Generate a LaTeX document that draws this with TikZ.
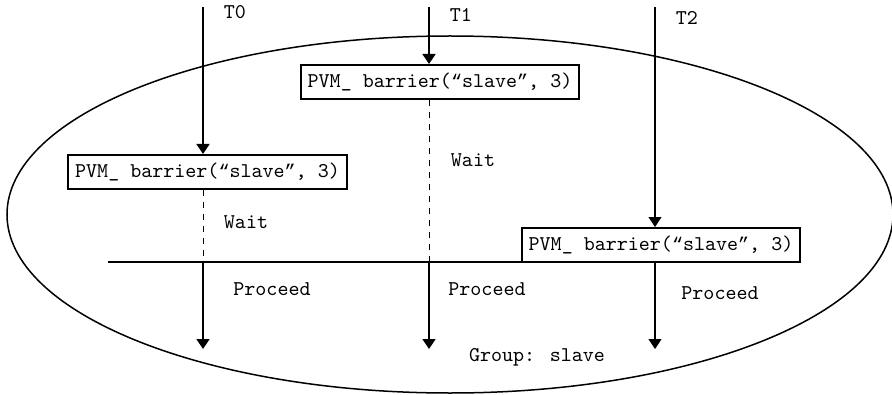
\documentclass[tikz,border=0pt]{standalone}
\usepackage{fontspec}
\newfontfamily\quotefont{Liberation Mono}
\newcommand{\qopen}{{\quotefont\fontsize{9.2}{11}\selectfont “}}
\newcommand{\qclose}{{\quotefont\fontsize{9.2}{11}\selectfont ”}}
\usepackage{tikz}
\usetikzlibrary{arrows.meta,positioning}

\begin{document}
\begin{tikzpicture}[x=0.5pt, y=-0.5pt, line width=0.75pt,
    every node/.style={font=\ttfamily\fontsize{10.5}{12}\selectfont, inner sep=0pt},
    barrier/.style={draw, line width=1pt, inner xsep=3.5pt, minimum height=17pt},
    flow/.style={-{Triangle[length=5pt,width=6.5pt]}}]
  \useasboundingbox (0,0) rectangle (892,395);

  % the process group
  \draw (450,214.5) ellipse [x radius=443, y radius=178.5];
  \node (grp) at (537,357) {Group: slave};

  % barrier calls of the three tasks
  \node[barrier] (bar0) at (207.5,172) {PVM\_ barrier(\qopen slave\qclose, 3)};
  \node[barrier] (bar1) at (440,82) {PVM\_ barrier(\qopen slave\qclose, 3)};
  \node[barrier] (bar2) at (661,245) {PVM\_ barrier(\qopen slave\qclose, 3)};

  % task lines
  \foreach \k/\x/\y in {0/203/12, 1/429/15, 2/655/18} {
    \coordinate (t\k) at (\x,7);
    \coordinate (e\k) at (\x,349);
    \node[anchor=west] (lab\k) at (\x+20,\y) {T\k};
  }
  \draw[flow] (t0) -- (t0 |- bar0.north);
  \draw[flow] (t1) -- (t1 |- bar1.north);
  \draw[flow, line width=0.6pt] (t2) -- (t2 |- bar2.north);

  % barrier line
  \coordinate (bl) at (108,262);
  \coordinate (br) at (755,262);
  \draw[line width=1pt] (bl) -- (br);

  % waiting
  \draw[dashed, line width=0.5pt] (t0 |- bar0.south) -- (t0 |- bl);
  \draw[dashed, line width=0.5pt] (t1 |- bar1.south) -- (t1 |- bl);
  \node (wait0) at (246,222) {Wait};
  \node (wait1) at (473,160) {Wait};

  % proceeding
  \draw[flow] (t0 |- bl) -- (e0);
  \draw[flow] (t1 |- bl) -- (e1);
  \draw[flow, line width=0.6pt] (t2 |- bar2.south) -- (e2);
  \node (go0) at (272,289) {Proceed};
  \node (go1) at (487,289) {Proceed};
  \node (go2) at (720,293) {Proceed};
\end{tikzpicture}
\end{document}
